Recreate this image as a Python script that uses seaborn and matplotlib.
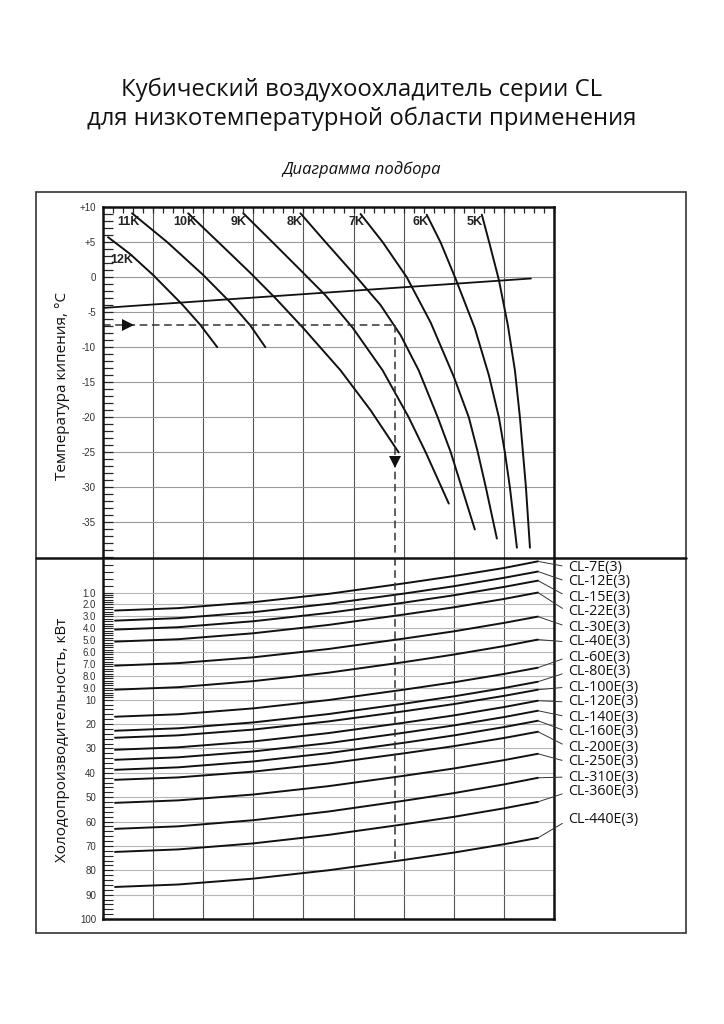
import numpy as np
import pandas as pd
import matplotlib
matplotlib.use("Agg")
import matplotlib.pyplot as plt
from matplotlib.ticker import MultipleLocator, FixedLocator
from matplotlib.lines import Line2D
from matplotlib.patches import Rectangle
import seaborn as sns

# ---------------- data: upper chart (evaporating temperature, ΔT curves) ----------------
dt_labels = ['12K', '11K', '10K', '9K', '8K', '7K', '6K', '5K']
x_12k = [0.10, 0.54, 1.00, 1.58, 1.94, 2.28]
t_12k = [5.7, 3.3, 0.3, -3.9, -6.8, -10.0]
x_11k = [0.58, 1.28, 2.00, 2.54, 2.94, 3.24]
t_11k = [9.1, 5.0, 0.3, -3.6, -6.9, -10.0]
x_10k = [1.70, 2.30, 2.94, 3.44, 4.00, 4.74, 5.34, 5.90]
t_10k = [9.1, 5.0, 0.6, -3.0, -7.3, -13.3, -19.0, -25.0]
x_9k = [2.80, 3.38, 3.94, 4.44, 4.98, 5.58, 6.10, 6.44, 6.90]
t_9k = [9.1, 5.0, 1.0, -2.6, -7.2, -13.3, -20.0, -25.0, -32.3]
x_8k = [3.94, 4.44, 5.06, 5.54, 5.94, 6.30, 6.68, 6.94, 7.42]
t_8k = [9.1, 5.0, 0.0, -4.0, -8.3, -13.3, -20.0, -25.0, -36.0]
x_7k = [5.14, 5.58, 6.06, 6.54, 7.00, 7.30, 7.48, 7.64, 7.86]
t_7k = [9.0, 5.0, 0.0, -6.5, -14.2, -20.0, -25.0, -30.0, -37.3]
x_6k = [6.46, 6.74, 7.04, 7.42, 7.70, 7.90, 8.02, 8.12, 8.26]
t_6k = [8.9, 4.9, -0.3, -7.3, -14.0, -20.0, -25.0, -30.0, -38.6]
x_5k = [7.56, 7.72, 7.90, 8.08, 8.22, 8.32, 8.38, 8.44, 8.52]
t_5k = [8.9, 4.6, -0.4, -6.9, -13.3, -20.0, -25.0, -30.0, -38.6]

x_sloped = [0.0, 8.54]
t_sloped = [-4.4, -0.2]

temp_ticks = [10, 5, 0, -5, -10, -15, -20, -25, -30, -35]
temp_tick_labels = ['+10', '+5', '0', '-5', '-10', '-15', '-20', '-25', '-30', '-35']

# selection example (dashed path)
sel_x = 5.82
sel_t = -6.9
sel_q = 76.5

# ---------------- data: lower chart (capacity, kW) ----------------
models = ['CL-7E(3)', 'CL-12E(3)', 'CL-15E(3)', 'CL-22E(3)', 'CL-30E(3)', 'CL-40E(3)',
          'CL-60E(3)', 'CL-80E(3)', 'CL-100E(3)', 'CL-120E(3)', 'CL-140E(3)',
          'CL-160E(3)', 'CL-200E(3)', 'CL-250E(3)', 'CL-310E(3)', 'CL-360E(3)', 'CL-440E(3)']
low_x = [0.24, 1.5, 3.0, 4.5, 6.0, 7.0, 8.0, 8.68]
q_7 = [2.51, 2.31, 1.81, 1.11, 0.74, 0.53, 0.30, 0.11]
q_12 = [3.36, 3.15, 2.65, 1.95, 1.09, 0.82, 0.58, 0.40]
q_15 = [4.11, 3.91, 3.41, 2.71, 1.85, 1.23, 0.84, 0.66]
q_22 = [5.12, 4.92, 4.42, 3.72, 2.85, 2.24, 1.54, 1.00]
q_30 = [7.14, 6.93, 6.44, 5.74, 4.87, 4.26, 3.55, 3.02]
q_40 = [9.16, 8.95, 8.44, 7.73, 6.85, 6.21, 5.50, 4.95]
q_60 = [16.99, 15.98, 13.56, 10.14, 9.16, 8.54, 7.84, 7.31]
q_80 = [22.74, 21.73, 19.32, 15.89, 11.66, 9.72, 9.02, 8.49]
q_100 = [25.62, 24.63, 22.26, 18.91, 14.77, 11.81, 9.68, 9.16]
q_120 = [30.55, 29.54, 27.12, 23.70, 19.47, 16.45, 13.03, 10.41]
q_140 = [34.66, 33.65, 31.23, 27.81, 23.58, 20.56, 17.14, 14.52]
q_160 = [38.77, 37.76, 35.34, 31.92, 27.69, 24.67, 21.25, 18.63]
q_200 = [42.88, 41.89, 39.52, 36.17, 32.03, 29.07, 25.72, 23.15]
q_250 = [52.33, 51.32, 48.91, 45.48, 41.25, 38.23, 34.81, 32.19]
q_310 = [63.01, 61.97, 59.45, 55.89, 51.49, 48.34, 44.78, 42.05]
q_360 = [72.47, 71.44, 68.97, 65.48, 61.16, 58.08, 54.59, 51.92]
q_440 = [86.85, 85.84, 83.43, 80.00, 75.77, 72.75, 69.33, 66.71]

q_ticks = [1, 2, 3, 4, 5, 6, 7, 8, 9, 10, 20, 30, 40, 50, 60, 70, 80, 90, 100]
q_tick_labels = ['1.0', '2.0', '3.0', '4.0', '5.0', '6.0', '7.0', '8.0', '9.0',
                 '10', '20', '30', '40', '50', '60', '70', '80', '90', '100']

# ---------------- frames ----------------
upper = pd.concat([
    pd.DataFrame({'x': xs, 't': ts, 'dt': lab})
    for lab, xs, ts in zip(dt_labels,
                           [x_12k, x_11k, x_10k, x_9k, x_8k, x_7k, x_6k, x_5k],
                           [t_12k, t_11k, t_10k, t_9k, t_8k, t_7k, t_6k, t_5k])
], ignore_index=True)

q_all = [q_7, q_12, q_15, q_22, q_30, q_40, q_60, q_80, q_100, q_120, q_140,
         q_160, q_200, q_250, q_310, q_360, q_440]
lower = pd.concat([pd.DataFrame({'x': low_x, 'q': qs, 'model': m})
                   for m, qs in zip(models, q_all)], ignore_index=True)

# ---------------- style ----------------
sns.set_style("white")
plt.rcParams['font.family'] = ['Open Sans', 'DejaVu Sans']
narrow = ['Liberation Sans Narrow', 'Liberation Sans', 'DejaVu Sans']

W, H = 724, 1024
fig = plt.figure(figsize=(W / 100, H / 100), dpi=100)


def fx(px):
    return px / W


def fy(py):
    return 1 - py / H


ax1 = fig.add_axes([fx(103), fy(557.5), fx(554) - fx(103), fy(207) - fy(557.5)])
ax2 = fig.add_axes([fx(103), fy(919), fx(554) - fx(103), fy(557.5) - fy(919)])


# piecewise capacity scale: 0-1, 1-10, 10-100
def q_fwd(v):
    v = np.asarray(v, dtype=float)
    return np.where(v <= 1, v * 35.0,
                    np.where(v <= 10, 35.0 + (v - 1) * 107.0 / 9.0,
                             142.0 + (v - 10) * 219.0 / 90.0))


def q_inv(u):
    u = np.asarray(u, dtype=float)
    return np.where(u <= 35, u / 35.0,
                    np.where(u <= 142, 1 + (u - 35) * 9.0 / 107.0,
                             10 + (u - 142) * 90.0 / 219.0))


ax2.set_yscale('function', functions=(q_fwd, q_inv))

# ---------------- upper chart ----------------
sns.lineplot(data=upper, x='x', y='t', hue='dt', hue_order=dt_labels,
             palette=['#111111'] * len(dt_labels), legend=False, sort=False,
             estimator=None, lw=1.4, ax=ax1)
ax1.plot(x_sloped, t_sloped, color='#111111', lw=1.3)
ax1.set_xlim(0, 9)
ax1.set_ylim(-40, 10)

# ---------------- lower chart ----------------
sns.lineplot(data=lower, x='x', y='q', hue='model', hue_order=models,
             palette=['#111111'] * len(models), legend=False, sort=False,
             estimator=None, lw=1.4, ax=ax2)
ax2.set_xlim(0, 9)
ax2.set_ylim(100, 0)

# dashed selection path
dash = dict(color='#333333', lw=1.1, ls=(0, (5, 3)))
ax1.plot([0, sel_x], [sel_t, sel_t], **dash)
ax1.plot([sel_x, sel_x], [sel_t, -40], **dash)
ax2.plot([sel_x, sel_x], [0, sel_q], **dash)
ax1.plot([0.5], [sel_t], marker='>', color='#111111', ms=8, mew=0)
ax1.plot([sel_x], [-26.4], marker='v', color='#111111', ms=8, mew=0)

# grids
for ax in (ax1, ax2):
    ax.set_xlabel('')
    ax.set_ylabel('')
    for xv in range(1, 9):
        ax.axvline(xv, color='#555555', lw=0.8, zorder=0)
for tv in temp_ticks[1:]:
    ax1.axhline(tv, color='#9a9a9a', lw=0.8, zorder=0)
for qv in q_ticks[:-1]:
    ax2.axhline(qv, color='#b5b5b5', lw=0.8, zorder=0)

# ticks upper
ax1.set_yticks(temp_ticks, labels=temp_tick_labels)
ax1.yaxis.set_minor_locator(MultipleLocator(1))
ax1.set_xticks(np.arange(0, 10, 1))
ax1.xaxis.set_minor_locator(MultipleLocator(0.2))
ax1.tick_params(axis='y', which='both', left=True, direction='in', length=7,
                width=0.9, pad=5, labelsize=7, labelcolor='#333333')
ax1.tick_params(axis='x', which='both', top=True, bottom=False, direction='in',
                length=4, width=0.9, labeltop=False, labelbottom=False)

# ticks lower
ax2.set_yticks(q_ticks, labels=q_tick_labels)
minor_q = list(np.arange(0.2, 1.0, 0.2)) + list(np.arange(1.2, 10.0, 0.2)) + list(np.arange(12, 100, 2))
ax2.yaxis.set_minor_locator(FixedLocator(minor_q))
ax2.tick_params(axis='y', which='both', left=True, direction='in', length=7,
                width=0.8, pad=5, labelsize=7, labelcolor='#333333')
ax2.tick_params(axis='x', which='both', bottom=False, top=False,
                labelbottom=False, labeltop=False)

for ax in (ax1, ax2):
    for lbl in ax.get_yticklabels():
        lbl.set_fontfamily(narrow)

# spines
for sp in ('left', 'right', 'top'):
    ax1.spines[sp].set_linewidth(1.8)
    ax1.spines[sp].set_color('#111111')
ax1.spines['bottom'].set_visible(False)
for sp in ('left', 'right', 'bottom'):
    ax2.spines[sp].set_linewidth(1.8)
    ax2.spines[sp].set_color('#111111')
ax2.spines['top'].set_visible(False)

# ΔT labels
dt_pos = {'11K': (0.5, 7.8), '10K': (1.64, 7.8), '9K': (2.7, 7.8), '8K': (3.82, 7.8),
          '7K': (5.06, 7.8), '6K': (6.34, 7.8), '5K': (7.42, 7.8), '12K': (0.37, 2.4)}
for lab, (xx, yy) in dt_pos.items():
    ax1.text(xx, yy, lab, ha='center', va='center', fontsize=9, fontweight='bold',
             family=narrow, color='#222222')

# model labels with leaders
for i, (m, qs) in enumerate(zip(models, q_all)):
    ypx = 567 + 15 * i if i < 16 else 820
    yfrac = (919 - ypx) / (919 - 557.5)
    ax2.annotate(m, xy=(low_x[-1], qs[-1]), xycoords='data',
                 xytext=(9.28, yfrac), textcoords=('data', 'axes fraction'),
                 ha='left', va='center', fontsize=10.3, color='#111111',
                 annotation_clip=False,
                 arrowprops=dict(arrowstyle='-', lw=0.7, color='#333333',
                                 shrinkA=2, shrinkB=0, relpos=(0, 0.5)))

# outer frame & divider
fig.add_artist(Rectangle((fx(36), fy(933)), fx(686) - fx(36), fy(192) - fy(933),
                         transform=fig.transFigure, fill=False, lw=1.2, ec='#333333'))
fig.add_artist(Line2D([fx(36), fx(686)], [fy(558), fy(558)], transform=fig.transFigure,
                      color='#111111', lw=1.8))

# axis titles
fig.text(fx(62), fy(386), 'Температура кипения, °C', rotation=90, ha='center',
         va='center', fontsize=11, color='#111111')
fig.text(fx(62), fy(740), 'Холодопроизводительность, кВт', rotation=90, ha='center',
         va='center', fontsize=11, color='#111111')

# titles
fig.text(0.5, fy(90), 'Кубический воздухоохладитель серии CL', ha='center', va='center',
         fontsize=17.2, color='#111111')
fig.text(0.5, fy(119), 'для низкотемпературной области применения', ha='center',
         va='center', fontsize=17.2, color='#111111')
fig.text(0.5, fy(170), 'Диаграмма подбора', ha='center', va='center', fontsize=12,
         style='italic', color='#111111')

fig.savefig('out.png', dpi=100)
